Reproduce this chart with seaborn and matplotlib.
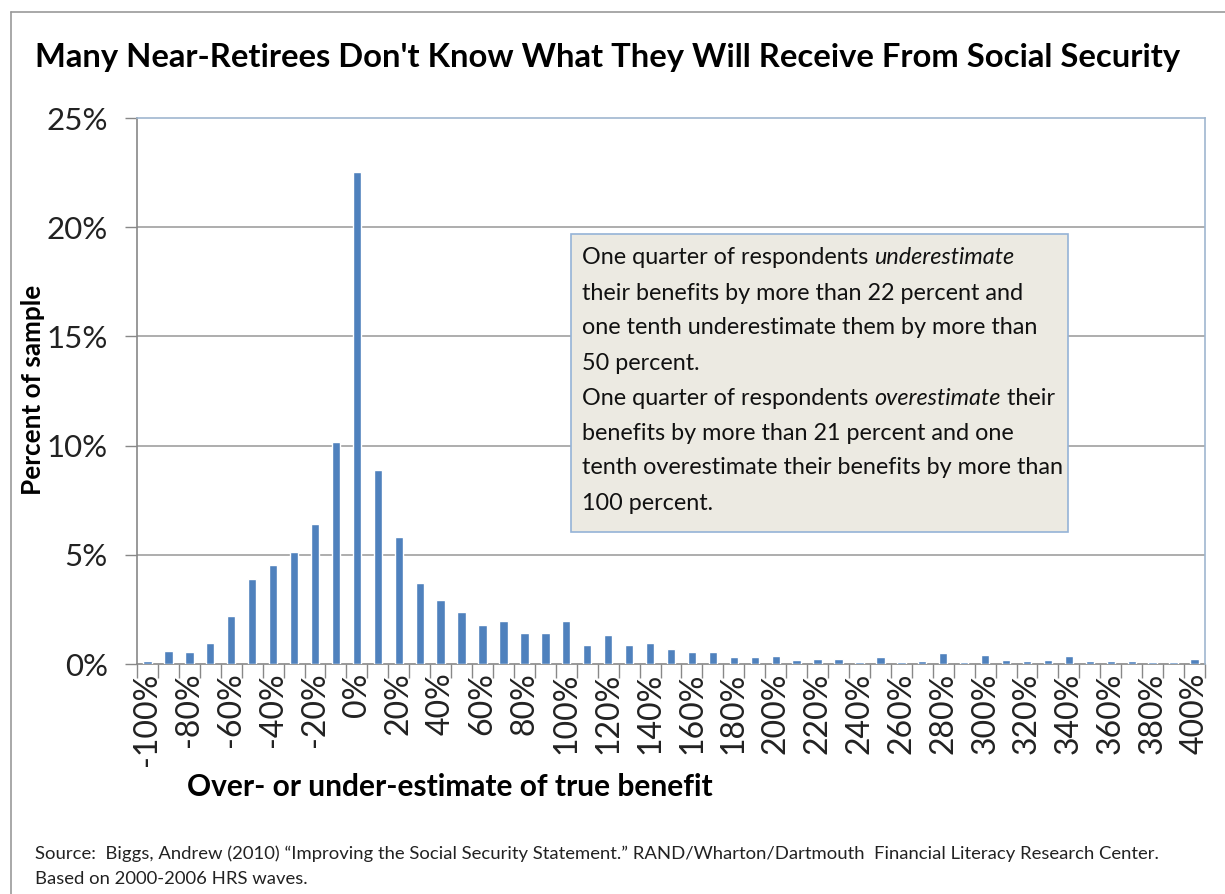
import numpy as np
import pandas as pd
import matplotlib
matplotlib.use("Agg")
import matplotlib.pyplot as plt
import seaborn as sns
from matplotlib.patches import Rectangle
from matplotlib.lines import Line2D

# bins of the estimate error, in percent
bins = list(range(-100, 401, 10))
share = [0.15, 0.6, 0.55, 0.95, 2.2, 3.9, 4.55, 5.15, 6.4, 10.15,
         22.55, 8.9, 5.8, 3.7, 2.95, 2.4, 1.8, 1.95, 1.4, 1.4,
         1.95, 0.85, 1.35, 0.85, 0.95, 0.7, 0.55, 0.55, 0.3, 0.3,
         0.35, 0.2, 0.25, 0.25, 0.08, 0.3, 0.08, 0.12, 0.5, 0.08,
         0.4, 0.2, 0.15, 0.2, 0.35, 0.12, 0.15, 0.15, 0.08, 0.08,
         0.25]
ytick_vals = [0, 5, 10, 15, 20, 25]

title = "Many Near-Retirees Don't Know What They Will Receive From Social Security"
xlabel = "Over- or under-estimate of true benefit"
ylabel = "Percent of sample"
source = ["Source:  Biggs, Andrew (2010) \u201cImproving the Social Security Statement.\u201d RAND/Wharton/Dartmouth  Financial Literacy Research Center.",
          "Based on 2000-2006 HRS waves."]
# each line of the note box: (text, italic?) pieces
note = [
    [("One quarter of respondents ", False), ("underestimate", True)],
    [("their benefits by more than 22 percent and", False)],
    [("one tenth underestimate them by more than", False)],
    [("50 percent.", False)],
    [("One quarter of respondents ", False), ("overestimate", True), (" their", False)],
    [("benefits by more than 21 percent and one", False)],
    [("tenth overestimate their benefits by more than", False)],
    [("100 percent.", False)],
]

df = pd.DataFrame({"bin": [f"{b}%" for b in bins], "share": share})

sns.set_style("white")
plt.rcParams["font.family"] = ["Lato", "DejaVu Sans"]

W, H = 1225, 894
fig = plt.figure(figsize=(W / 100, H / 100), dpi=100)
ax = fig.add_axes([137 / W, 1 - 664 / H, (1205 - 137) / W, (664 - 118) / H])

sns.barplot(data=df, x="bin", y="share", color="#4F81BD", width=0.4,
            saturation=1, ax=ax, zorder=3)

ax.set_xlim(-0.5, len(bins) - 0.5)
ax.set_ylim(0, 25)
ax.set_yticks(ytick_vals)
ax.set_yticklabels([f"{v}%" for v in ytick_vals], fontsize=22.5, color="#222222")
for v in ytick_vals[1:-1]:
    ax.axhline(v, color="#a0a0a0", lw=1.2, zorder=0)

idx = list(range(0, len(bins), 2))
ax.set_xticks(idx)
ax.set_xticklabels([f"{bins[i]}%" for i in idx], rotation=90, fontsize=23,
                   color="#222222")
ax.set_xticks(np.arange(-0.5, len(bins), 1), minor=True)
ax.tick_params(axis="x", which="major", length=0, pad=6)
ax.tick_params(axis="x", which="minor", length=10, width=1, color="#888888",
               direction="out", bottom=True)
ax.tick_params(axis="y", length=9, width=1, color="#888888", direction="out",
               left=True, pad=12)
ax.set_xlabel("")
ax.set_ylabel("")

for s in ["left", "bottom"]:
    ax.spines[s].set_color("#888888")
    ax.spines[s].set_linewidth(1.2)
    ax.spines[s].set_zorder(1)
for s in ["top", "right"]:
    ax.spines[s].set_visible(True)
    ax.spines[s].set_color("#9fb6cf")
    ax.spines[s].set_linewidth(1.2)

# outer frame (left and top edges visible)
fig.add_artist(Line2D([11 / W, 11 / W], [0, 1 - 12 / H], color="#999999", lw=1.2))
fig.add_artist(Line2D([11 / W, 1], [1 - 12 / H, 1 - 12 / H], color="#999999", lw=1.2))

fig.text(35 / W, 1 - 57 / H, title, fontsize=23.6, fontweight="bold",
         va="center", ha="left", color="black")
fig.text(33 / W, 1 - 390 / H, ylabel, fontsize=18.8, fontweight="bold",
         rotation=90, va="center", ha="center", color="black")
fig.text(450 / W, 1 - 787 / H, xlabel, fontsize=21.5, fontweight="bold",
         va="center", ha="center", color="black")
fig.text(35 / W, 1 - 854 / H, source[0], fontsize=13.3, va="center",
         ha="left", color="#222222")
fig.text(35 / W, 1 - 879 / H, source[1], fontsize=13.3, va="center",
         ha="left", color="#222222")

# note box
fig.add_artist(Rectangle((571 / W, 1 - 532 / H), (1068 - 571) / W,
                         (532 - 234) / H, transform=fig.transFigure,
                         facecolor="#ECEAE2", edgecolor="#95b3d7", lw=1.2,
                         zorder=5))
renderer = fig.canvas.get_renderer()
for k, parts in enumerate(note):
    x = 582
    y = 258 + 35 * k
    for txt, it in parts:
        t = fig.text(x / W, 1 - y / H, txt, fontsize=16.8,
                     style="italic" if it else "normal", va="center",
                     ha="left", color="#111111", zorder=6)
        x += t.get_window_extent(renderer).width

fig.savefig("out.png", dpi=100)
